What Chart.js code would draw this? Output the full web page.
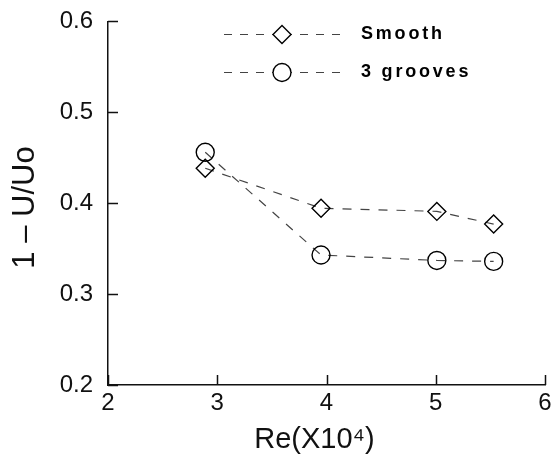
<!DOCTYPE html>
<html>
<head>
<meta charset="utf-8">
<script src="https://cdn.jsdelivr.net/npm/chart.js@4/dist/chart.umd.min.js"></script>
<style>
  html, body { margin: 0; padding: 0; background: #fff; }
  #wrap { width: 556px; height: 461px; position: relative; }
</style>
</head>
<body>
<div id="wrap"><canvas id="c" width="556" height="461"></canvas></div>
<script>
// ---- data ----
const seriesNames = ['Smooth', '3 grooves'];
const reSmooth = [2.89, 3.95, 5.01, 5.53];
const smoothVals = [0.4385, 0.3945, 0.391, 0.377];
const reGrooves = [2.89, 3.95, 5.01, 5.53];
const groovesVals = [0.456, 0.343, 0.337, 0.336];
const xTicks = [2, 3, 4, 5, 6];
const yTicks = [0.2, 0.3, 0.4, 0.5, 0.6];
const xTitle = 'Re(X10\u2074)   ';
const yTitle = '1 \u2013 U/Uo ';

const toPts = (xs, ys) => xs.map((x, i) => ({ x: x, y: ys[i] }));

// inward tick marks
const innerTicks = {
  id: 'innerTicks',
  afterDraw(chart) {
    const { ctx, chartArea, scales } = chart;
    ctx.save();
    ctx.strokeStyle = '#111';
    ctx.lineWidth = 1.5;
    ctx.beginPath();
    xTicks.forEach(v => {
      const px = Math.round(scales.x.getPixelForValue(v)) + 0.5;
      ctx.moveTo(px, chartArea.bottom);
      ctx.lineTo(px, chartArea.bottom - 10);
    });
    yTicks.forEach(v => {
      const py = Math.round(scales.y.getPixelForValue(v)) + 0.5;
      ctx.moveTo(chartArea.left, py);
      ctx.lineTo(chartArea.left + 10, py);
    });
    ctx.stroke();
    ctx.restore();
  }
};

// legend: dashed line with marker in the middle, text to the right
const lineLegend = {
  id: 'lineLegend',
  afterDraw(chart) {
    const { ctx } = chart;
    const x0 = 218, x1 = 345, xm = 282, tx = 361;
    const rows = [34, 72];
    chart.data.datasets.forEach((ds, i) => {
      const y = rows[i] + 0.5;
      ctx.save();
      ctx.strokeStyle = ds.borderColor;
      ctx.lineWidth = 1.2;
      ctx.setLineDash([8, 8]);
      ctx.beginPath();
      ctx.moveTo(xm - 2, y); ctx.lineTo(x0, y);
      ctx.moveTo(xm + 2, y); ctx.lineTo(x1, y);
      ctx.stroke();
      ctx.setLineDash([]);
      ctx.fillStyle = '#fff';
      ctx.strokeStyle = ds.pointBorderColor;
      ctx.lineWidth = ds.pointBorderWidth;
      ctx.beginPath();
      const r = ds.pointRadius;
      if (ds.pointStyle === 'circle') {
        ctx.arc(xm, y, r, 0, Math.PI * 2);
      } else {
        ctx.moveTo(xm - r, y); ctx.lineTo(xm, y - r);
        ctx.lineTo(xm + r, y); ctx.lineTo(xm, y + r); ctx.closePath();
      }
      ctx.fill();
      ctx.stroke();
      ctx.fillStyle = '#000';
      ctx.font = 'bold 18px "Liberation Sans", Arial, sans-serif';
      try { ctx.letterSpacing = '2.8px'; } catch (e) {}
      ctx.textBaseline = 'middle';
      ctx.textAlign = 'left';
      ctx.fillText(ds.label, tx, y);
      ctx.restore();
    });
  }
};

const commonDs = {
  borderColor: '#444',
  borderWidth: 1.2,
  borderDash: [9, 9],
  pointBorderColor: '#000',
  pointBackgroundColor: 'rgba(255,255,255,0)',
  pointBorderWidth: 1.4,
  pointRadius: 9,
  pointHoverRadius: 9,
  showLine: true,
  tension: 0,
  fill: false
};

new Chart(document.getElementById('c'), {
  type: 'scatter',
  data: {
    datasets: [
      Object.assign({}, commonDs, { label: seriesNames[0], data: toPts(reSmooth, smoothVals), pointStyle: 'rectRot' }),
      Object.assign({}, commonDs, { label: seriesNames[1], data: toPts(reGrooves, groovesVals), pointStyle: 'circle' })
    ]
  },
  options: {
    responsive: false,
    animation: false,
    devicePixelRatio: 1,
    layout: { padding: { top: 20, right: 11, left: 0, bottom: 0 } },
    plugins: { legend: { display: false }, tooltip: { enabled: false } },
    scales: {
      x: {
        type: 'linear',
        min: 2, max: 6,
        afterBuildTicks: s => { s.ticks = xTicks.map(v => ({ value: v })); },
        afterFit: s => { s.height = 76; },
        grid: { display: false },
        border: { display: true, color: '#111', width: 1.5 },
        ticks: { color: '#111', padding: -4, font: { family: '"Liberation Sans", Arial, sans-serif', size: 24 }, maxRotation: 0,
                 callback: v => String(v) },
        title: { display: true, text: xTitle, color: '#111', padding: { top: 0, bottom: 4 },
                 font: { family: '"Liberation Sans", Arial, sans-serif', size: 29 } }
      },
      y: {
        type: 'linear',
        min: 0.2, max: 0.6,
        afterBuildTicks: s => { s.ticks = yTicks.map(v => ({ value: v })); },
        afterFit: s => { s.width = 108; },
        grid: { display: false },
        border: { display: true, color: '#111', width: 1.5 },
        ticks: { color: '#111', padding: 7, font: { family: '"Liberation Sans", Arial, sans-serif', size: 24 },
                 callback: v => v.toFixed(1) },
        title: { display: true, text: yTitle, color: '#111', padding: { top: 7, bottom: 0 },
                 font: { family: '"Liberation Sans", Arial, sans-serif', size: 31 } }
      }
    }
  },
  plugins: [innerTicks, lineLegend]
});
</script>
</body>
</html>
